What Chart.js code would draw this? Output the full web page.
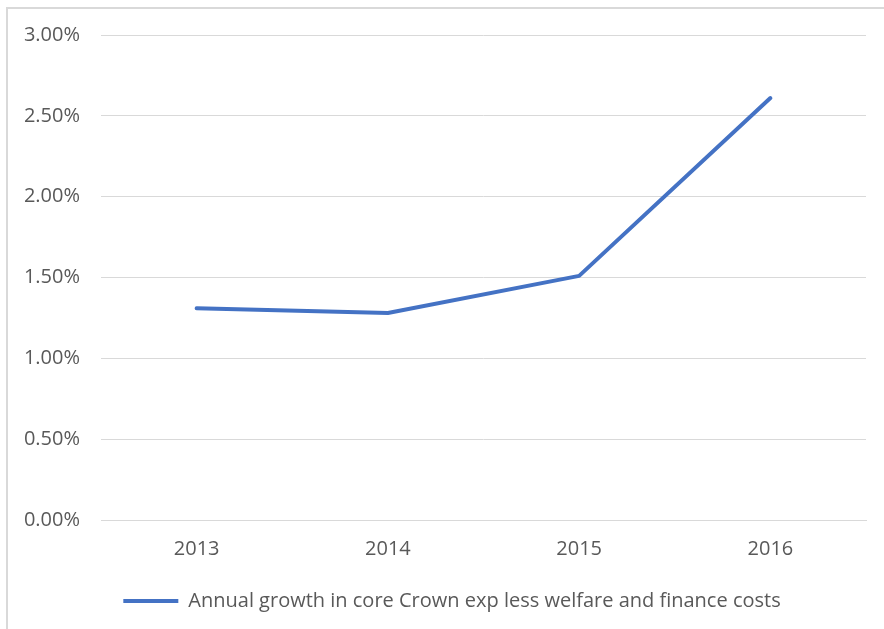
<!DOCTYPE html>
<html>
<head>
<meta charset="utf-8">
<script src="https://cdn.jsdelivr.net/npm/chart.js@4/dist/chart.umd.min.js"></script>
<style>
  html, body { margin: 0; padding: 0; background: #fff; }
  #wrap { position: relative; width: 884px; height: 629px; overflow: hidden; }
  #frame { position: absolute; left: 6px; top: 7px; width: 900px; height: 700px;
           border-left: 2px solid #d9d9d9; border-top: 2px solid #d9d9d9; }
  #myChart { position: absolute; left: 0; top: 0; }
</style>
</head>
<body>
<div id="wrap">
  <div id="frame"></div>
  <canvas id="myChart" width="884" height="629"></canvas>
</div>
<script>
const years = ['2013', '2014', '2015', '2016'];
const growth = [1.31, 1.28, 1.51, 2.61];
const seriesName = 'Annual growth in core Crown exp less welfare and finance costs';

const ctx = document.getElementById('myChart');
const textColor = '#595959';
const gridColor = '#d9d9d9';
const fontFam = '"Open Sans", sans-serif';

// nudge the legend a bit right, like the original
const legendShift = {
  id: 'legendShift',
  afterLayout(chart) {
    chart.legend.left += 19;
    chart.legend.right += 19;
  }
};

c = new Chart(ctx, {
  type: 'line',
  data: {
    labels: years,
    datasets: [{
      label: seriesName,
      data: growth,
      borderColor: '#4472C4',
      backgroundColor: '#4472C4',
      borderWidth: 4,
      borderCapStyle: 'round',
      borderJoinStyle: 'round',
      pointRadius: 0,
      tension: 0
    }]
  },
  options: {
    responsive: false,
    animation: false,
    layout: { padding: { left: 0, right: 18, top: 35, bottom: 8 } },
    plugins: {
      tooltip: { enabled: false },
      legend: {
        position: 'bottom',
        labels: {
          color: textColor,
          font: { family: fontFam, size: 20 },
          boxWidth: 55,
          boxHeight: 4,
          padding: 20,
          generateLabels: function(chart) {
            let items = Chart.defaults.plugins.legend.labels.generateLabels(chart);
            items.forEach(it => { it.lineWidth = 0; });
            return items;
          }
        }
      }
    },
    scales: {
      x: {
        offset: true,
        grid: { display: false, drawTicks: false },
        border: { display: true, color: gridColor, width: 1 },
        ticks: { color: textColor, font: { family: fontFam, size: 20 }, padding: 17 },
        afterFit: function(scale) { scale.height = 51; }
      },
      y: {
        min: 0,
        max: 3,
        grid: { color: gridColor, drawTicks: false },
        border: { display: false },
        ticks: {
          stepSize: 0.5,
          color: textColor,
          font: { family: fontFam, size: 20 },
          padding: 21,
          callback: function(v) { return v.toFixed(2) + '%'; }
        },
        afterFit: function(scale) { scale.width = 101; }
      }
    }
  },
  plugins: [legendShift]
});
</script>
</body>
</html>
